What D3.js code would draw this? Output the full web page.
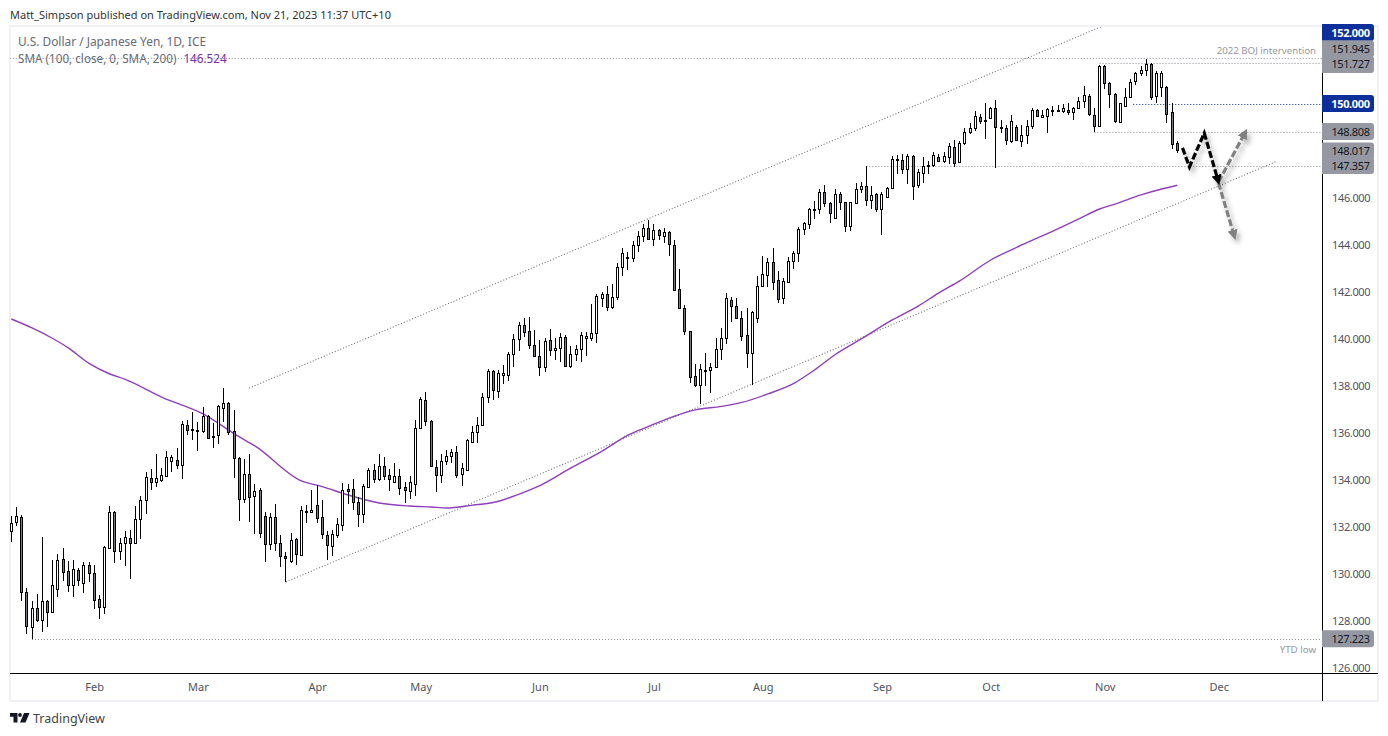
<!DOCTYPE html>
<html>
<head>
<meta charset="UTF-8">
<script src="https://cdn.jsdelivr.net/npm/d3@7/dist/d3.min.js"></script>
<style>
body{ margin:0; background:#fff; font-family:"Noto Sans", sans-serif; }
text{ font-family:"Noto Sans", sans-serif; }
</style>
</head>
<body>
<script>
var opens = [131.82,132.21,132.40,129.20,127.74,128.52,128.04,128.82,128.38,129.36,
130.60,130.09,129.53,130.14,129.61,130.35,130.01,128.90,128.59,131.10,
132.60,130.97,131.31,131.50,131.31,132.33,133.11,134.05,133.88,133.99,
134.15,134.80,134.82,134.63,136.30,136.12,136.08,136.08,136.69,135.82,
135.88,137.06,137.24,136.08,134.90,133.16,134.22,133.29,133.54,132.45,
131.24,132.39,131.28,130.73,130.52,131.48,130.77,132.67,132.60,132.90,
132.39,131.62,131.18,131.62,132.05,133.58,133.58,133.03,132.52,133.67,
134.39,134.01,134.56,134.18,133.88,134.13,133.67,133.53,133.82,136.21,
137.37,136.48,134.52,134.18,134.77,134.99,135.16,134.22,134.39,135.58,
136.01,136.30,137.50,138.60,137.78,138.46,138.46,139.33,139.97,140.56,
140.30,139.71,139.24,138.77,139.92,139.50,139.58,140.05,138.84,139.33,
139.54,140.01,140.01,140.22,141.71,141.88,141.33,141.75,143.03,143.44,
143.41,143.96,144.35,144.69,144.22,144.60,144.38,144.52,143.96,142.09,
141.28,140.30,138.39,138.01,138.63,138.65,138.77,139.54,140.01,141.64,
141.37,140.86,140.14,139.37,140.86,142.22,142.69,143.24,142.48,141.71,
142.42,143.28,143.62,144.65,144.86,145.48,145.50,146.22,145.75,145.14,
146.14,145.79,144.77,145.75,146.35,146.48,145.88,146.14,145.50,146.01,
146.39,147.61,147.58,147.20,147.77,146.52,147.06,147.33,147.37,147.71,
147.57,147.71,148.14,147.50,148.31,148.77,148.94,149.41,149.24,149.37,
149.79,148.97,148.94,148.40,148.99,148.42,148.65,149.03,149.71,149.41,
149.45,149.70,149.71,149.70,149.71,149.65,149.79,150.09,150.31,149.50,
149.03,151.58,150.86,150.39,149.20,149.88,150.26,150.94,151.28,151.41,
151.67,150.30,150.69,150.69,149.62,148.30]

var highs = [132.45,132.83,132.49,129.37,128.83,129.13,131.55,128.87,130.58,130.83,
131.09,130.53,130.58,130.25,130.50,130.48,130.35,129.09,131.17,132.87,
132.65,131.51,131.81,131.85,132.87,133.30,134.30,134.45,135.08,134.48,
135.21,135.03,135.34,136.49,136.52,136.87,136.45,137.09,136.74,136.39,
137.16,137.89,137.28,136.96,134.97,134.86,135.08,133.81,133.62,132.63,
132.56,132.94,131.64,130.90,131.71,131.53,132.87,132.90,133.55,133.75,
133.13,131.81,131.85,132.35,133.84,133.81,134.02,133.27,133.79,134.50,
134.66,135.07,134.94,134.45,134.69,134.43,133.88,134.13,136.52,137.50,
137.71,136.52,134.82,135.07,135.26,135.30,135.43,134.69,135.71,136.26,
136.67,137.68,138.70,138.66,138.66,138.87,139.43,140.18,140.69,140.89,
140.90,140.36,139.94,140.01,140.40,140.01,140.22,140.13,139.68,139.72,
140.29,140.29,141.47,141.89,141.98,142.23,142.32,143.20,143.85,143.70,
144.15,144.56,144.87,145.04,144.87,144.65,144.69,144.59,144.18,142.94,
141.43,140.30,138.90,138.92,139.37,138.94,140.01,140.43,141.92,141.77,
141.71,141.17,141.28,141.17,142.66,143.51,143.41,143.84,142.86,142.56,
143.45,143.71,144.76,144.96,145.54,145.84,146.38,146.53,145.82,146.35,
146.22,145.82,145.82,146.60,146.67,147.33,146.49,146.18,146.25,146.43,
147.77,147.81,147.84,147.84,147.82,147.20,147.71,147.57,147.92,147.84,
147.92,148.31,148.45,148.40,148.94,149.16,149.68,149.55,150.01,149.84,
150.14,149.30,149.07,149.51,149.07,149.07,149.30,149.81,149.78,149.72,
149.81,149.88,149.92,149.98,150.01,149.87,150.26,150.73,150.39,149.79,
151.65,151.62,150.90,150.46,150.01,150.65,151.04,151.33,151.61,151.88,
151.71,151.37,151.37,150.73,150.01,148.40]

var lows = [131.34,132.02,128.84,127.43,127.22,127.95,127.53,127.74,128.31,129.02,
129.68,129.21,129.02,129.47,129.19,129.64,128.50,128.08,128.28,131.10,
130.46,130.58,130.32,129.77,131.26,131.47,132.53,133.55,133.67,133.91,
134.09,134.33,134.43,134.02,135.91,135.68,135.21,135.99,135.74,135.33,
135.51,136.45,135.89,134.06,132.25,133.01,132.20,131.70,131.52,130.50,
131.00,130.96,130.29,129.64,130.45,130.38,130.76,132.15,132.60,132.15,
131.48,130.58,130.76,131.52,131.82,132.96,132.70,132.00,132.17,133.65,
133.87,133.95,133.98,133.53,133.88,133.34,133.01,133.18,133.31,136.16,
136.29,134.55,133.48,133.84,134.63,134.72,134.05,133.74,134.38,135.58,
135.54,136.30,137.27,137.38,137.48,138.05,138.21,138.80,139.48,140.08,
139.57,139.23,138.42,138.57,139.26,139.08,139.00,138.80,138.73,139.06,
139.00,139.26,139.89,139.82,141.35,141.19,141.27,141.64,142.67,142.92,
143.27,143.70,144.12,144.22,143.95,144.19,144.08,143.52,142.05,141.28,
140.16,138.12,137.95,137.21,138.00,137.67,138.76,139.08,139.75,140.72,
140.86,139.91,138.74,138.03,140.67,142.22,142.21,142.05,141.51,141.48,
142.39,142.97,143.27,144.42,144.65,145.08,145.31,145.61,144.93,145.11,
145.47,144.55,144.59,145.72,146.18,145.65,145.51,145.37,144.42,146.01,
146.39,147.01,147.01,146.57,145.89,146.42,146.63,147.00,147.31,147.53,
147.45,147.44,147.31,147.48,148.25,148.69,148.83,149.13,148.50,149.36,
147.27,148.73,148.23,148.32,148.42,148.15,148.26,148.93,149.44,149.37,
148.76,149.48,149.63,149.61,149.53,149.31,149.77,149.82,149.45,148.77,
149.03,150.63,149.82,149.16,149.18,149.87,150.25,150.77,151.17,151.17,
150.15,150.04,150.26,149.18,148.08,147.88]

var closes = [132.14,132.43,129.20,127.78,128.52,128.02,128.82,128.35,129.50,130.56,
130.08,129.53,130.18,129.74,130.35,130.04,128.89,128.59,131.11,132.60,
130.97,131.31,131.54,131.28,132.31,133.11,134.09,133.88,134.05,134.18,
134.94,134.94,134.63,136.35,136.12,136.13,136.09,136.69,135.77,135.85,
137.11,137.24,136.04,134.90,133.16,134.22,133.27,133.50,131.74,131.24,
132.39,131.30,130.73,130.65,131.44,130.82,132.69,132.60,132.72,132.35,
131.67,131.20,131.67,132.09,133.54,133.53,133.03,132.52,133.71,134.39,
134.01,134.56,134.13,134.04,134.13,133.62,133.54,133.88,136.18,137.41,
136.48,134.56,134.18,134.77,134.99,135.16,134.21,134.48,135.70,136.01,
136.30,137.50,138.60,137.82,138.52,138.52,139.33,139.97,140.56,140.29,
139.71,139.24,138.77,139.88,139.50,139.58,140.05,138.84,139.33,139.54,
140.13,140.09,140.22,141.79,141.88,141.33,141.75,143.03,143.62,143.45,
143.96,144.35,144.69,144.22,144.60,144.39,144.52,144.01,142.05,141.28,
140.30,138.35,138.01,138.69,138.65,138.77,139.54,140.01,141.71,141.40,
140.86,140.12,139.37,141.11,142.22,142.73,143.24,142.42,141.67,142.43,
143.28,143.62,144.65,144.90,145.50,145.50,146.22,145.75,145.33,146.14,
145.79,144.77,145.79,146.35,146.48,145.88,146.09,145.50,146.14,146.39,
147.62,147.62,147.20,147.77,146.48,147.07,147.33,147.37,147.80,147.54,
147.75,148.18,147.45,148.31,148.77,148.94,149.45,149.24,149.28,149.79,
148.99,148.99,148.43,149.24,148.46,148.65,149.03,149.71,149.45,149.50,
149.75,149.71,149.72,149.79,149.65,149.79,150.09,150.35,149.54,149.03,
151.58,150.86,150.39,149.26,150.01,150.26,150.90,151.28,151.41,151.67,
150.26,151.28,151.28,149.54,148.29,148.02]

var smaBars = [0,4,8,11,15,19,22,29,37,44,47,56,60,65,71,77,81,84,89,93,98,102,108,114,119,123,128,132,137,141,146,151,155,159,164,170,175,179,183,189,195,201,206,210,213,218,222,225]
var smaValues = [140.83,140.45,140.00,139.60,138.94,138.49,138.26,137.51,136.79,135.81,135.43,133.94,133.70,133.34,133.00,132.87,132.83,132.79,132.91,133.02,133.38,133.74,134.49,135.21,135.89,136.26,136.70,136.96,137.11,137.28,137.64,138.09,138.66,139.32,139.98,140.79,141.38,141.94,142.45,143.34,143.98,144.57,145.09,145.51,145.72,146.11,146.36,146.52]

var priceTicks = [126,128,130,132,134,136,138,140,142,144,146]
var monthLabels = ["Feb","Mar","Apr","May","Jun","Jul","Aug","Sep","Oct","Nov","Dec"]
var monthBars = [16,36,59,79,102,124,145,168,189,211,233]

var levelPrices = [151.945,151.727,150,148.808,147.357,127.223]
var levelStarts = [-0.3,210,216.5,209,165,4]
var levelColors = ["#8a8e96","#8a8e96","#0d2f9a","#8a8e96","#8a8e96","#8a8e96"]

var labelPrices = [152,151.945,151.727,150,148.808,148.017,147.357,127.223]
var labelNavy = [true,false,false,true,false,false,false,false]

// trend channel, start and end as [bar, price]
var channelUpper = [[45.9,137.89],[210.2,153.26]]
var channelLower = [[53,129.64],[244.3,147.55]]
// projected path
var pathBlack = [[226,148.11],[227.35,147.3],[230.2,148.74],[232.95,146.66]]
var pathUp = [[232.95,146.66],[238.2,148.81]]
var pathDown = [[232.95,146.62],[236.05,144.32]]

var width = 1388, height = 736
var pane = {left:10, right:1322, top:27, bottom:673}

var x = d3.scaleLinear().domain([0,225]).range([11.3,1177.3])
var y = d3.scaleLinear().domain([126,146]).range([667.5,197.5])

var svg = d3.select("body").append("svg")
    .attr("width", width).attr("height", height)
    .style("display","block")

var defs = svg.append("defs")
var blur = defs.append("filter").attr("id","shadow")
    .attr("x","-50%").attr("y","-50%").attr("width","200%").attr("height","200%")
blur.append("feDropShadow").attr("dx",3).attr("dy",4).attr("stdDeviation",2.5)
    .attr("flood-color","#000").attr("flood-opacity",0.3)
defs.append("clipPath").attr("id","paneclip").append("rect")
    .attr("x",pane.left).attr("y",pane.top)
    .attr("width",pane.right-pane.left).attr("height",pane.bottom-pane.top)
;[["headBlack","#000"],["headGrey","#808080"]].forEach(function(m){
    defs.append("marker").attr("id",m[0])
        .attr("viewBox","0 0 10 10").attr("refX",7).attr("refY",5)
        .attr("markerWidth",3.2).attr("markerHeight",3.2)
        .attr("orient","auto")
        .append("path").attr("d","M0,0L10,5L0,10z").attr("fill",m[1])
})

svg.append("text").attr("x",10).attr("y",19)
    .attr("font-size",11).attr("fill","#333")
    .text("Matt_Simpson published on TradingView.com, Nov 21, 2023 11:37 UTC+10")

// frame
svg.append("rect").attr("x",10).attr("y",26).attr("width",1368).attr("height",675)
    .attr("fill","none").attr("stroke","#f0f0f6").attr("stroke-width",2)

var plot = svg.append("g").attr("clip-path","url(#paneclip)")

// dotted levels and channel
var dots = "1 2"
plot.selectAll(".level").data(levelPrices).enter().append("line")
    .attr("class","level")
    .attr("x1",function(d,i){return x(levelStarts[i])})
    .attr("x2",pane.right)
    .attr("y1",function(d){return Math.round(y(d))+0.5})
    .attr("y2",function(d){return Math.round(y(d))+0.5})
    .attr("stroke",function(d,i){return levelColors[i]})
    .attr("stroke-dasharray",dots)

var lineGen = d3.line().x(function(d){return x(d[0])}).y(function(d){return y(d[1])})
plot.selectAll(".channel").data([channelUpper,channelLower]).enter().append("path")
    .attr("class","channel")
    .attr("d",lineGen).attr("fill","none")
    .attr("stroke","#707070").attr("stroke-width",1.1).attr("stroke-dasharray",dots)

// sma
var smaLine = d3.line()
    .x(function(d,i){return x(smaBars[i])})
    .y(function(d){return y(d)})
    .curve(d3.curveMonotoneX)
plot.append("path").datum(smaValues)
    .attr("d",smaLine).attr("fill","none")
    .attr("stroke","#8e3fbb").attr("stroke-width",1.4)

// candles
var candles = plot.selectAll(".candle").data(opens).enter().append("g").attr("class","candle")
candles.append("line")
    .attr("x1",function(d,i){return Math.floor(x(i))+0.5})
    .attr("x2",function(d,i){return Math.floor(x(i))+0.5})
    .attr("y1",function(d,i){return Math.round(y(highs[i]))})
    .attr("y2",function(d,i){return Math.round(y(lows[i]))})
    .attr("stroke","#000")
candles.append("rect")
    .attr("x",function(d,i){return Math.floor(x(i))-0.5})
    .attr("width",2)
    .attr("y",function(d,i){return Math.round(y(Math.max(d,closes[i])))+0.5})
    .attr("height",function(d,i){
        return Math.max(1,Math.round(y(Math.min(d,closes[i])))-Math.round(y(Math.max(d,closes[i]))))
    })
    .attr("fill",function(d,i){return closes[i]>=d ? "#fff" : "#787b86"})
    .attr("stroke","#000")

// projected arrows
var arrows = plot.append("g").attr("filter","url(#shadow)")
;[[pathUp,"#808080","headGrey"],[pathDown,"#808080","headGrey"],[pathBlack,"#000","headBlack"]].forEach(function(a){
    arrows.append("path").attr("d",lineGen(a[0])).attr("fill","none")
        .attr("stroke",a[1]).attr("stroke-width",3.2)
        .attr("stroke-dasharray","7 2.5")
        .attr("marker-end","url(#"+a[2]+")")
})

// notes on the chart
svg.append("text").attr("x",1316).attr("y",y(151.945)-3.5).attr("text-anchor","end")
    .attr("font-size",9.7).attr("fill","#9598a1").text("2022 BOJ intervention")
svg.append("text").attr("x",1316).attr("y",y(127.223)+14).attr("text-anchor","end")
    .attr("font-size",9.7).attr("fill","#9598a1").text("YTD low")

// legend
svg.append("text").attr("x",18).attr("y",46)
    .attr("font-size",11.9).attr("fill","#666a75").text("U.S. Dollar / Japanese Yen, 1D, ICE")
var smaText = svg.append("text").attr("x",18).attr("y",63).attr("font-size",11.7)
smaText.append("tspan").attr("fill","#666a75").text("SMA (100, close, 0, SMA, 200)")
smaText.append("tspan").attr("fill","#7b2cab").attr("dx",7).text("146.524")

// axes
var yAxis = d3.axisRight(y).tickValues(priceTicks).tickSize(0).tickPadding(10)
    .tickFormat(d3.format(".3f"))
var yG = svg.append("g").attr("transform","translate("+pane.right+",0)").call(yAxis)
yG.select(".domain").remove()
yG.selectAll("text").attr("font-size",11).attr("fill","#50535e")
    .style("letter-spacing","-0.35px").style("font-family",'"Noto Sans", sans-serif')

var xAxis = d3.axisBottom(x).tickValues(monthBars).tickSize(0).tickPadding(10)
    .tickFormat(function(d,i){return monthLabels[i]})
var xG = svg.append("g").attr("transform","translate(0,"+pane.bottom+")").call(xAxis)
xG.select(".domain").remove()
xG.selectAll("text").attr("font-size",11).attr("fill","#50535e").style("font-family",'"Noto Sans", sans-serif')

svg.append("line").attr("x1",10).attr("x2",1378).attr("y1",673.5).attr("y2",673.5).attr("stroke","#000")
svg.append("line").attr("x1",1322.5).attr("x2",1322.5).attr("y1",27).attr("y2",701).attr("stroke","#000")

// price tags, nudged apart where they would overlap
var labelNudge = [-24,-9,1.5,0,0,1,0,0]
var tags = svg.selectAll(".tag").data(labelPrices).enter().append("g")
    .attr("class","tag")
    .attr("transform",function(d,i){return "translate("+pane.right+","+(y(d)+labelNudge[i])+")"})
tags.append("path")
    .attr("d","M0,-8.5H49a3,3 0 0 1 3,3V5.5a3,3 0 0 1 -3,3H0Z")
    .attr("fill",function(d,i){return labelNavy[i] ? "#0d2f9a" : "#9598a1"})
tags.append("text").attr("x",28.5).attr("y",4)
    .attr("text-anchor","middle").attr("font-size",11)
    .style("letter-spacing","-0.35px")
    .attr("font-weight",function(d,i){return labelNavy[i] ? 700 : 400})
    .attr("fill",function(d,i){return labelNavy[i] ? "#fff" : "#131722"})
    .text(d3.format(".3f"))

// footer logo
var logo = svg.append("g").attr("fill","#131722")
logo.append("path").attr("d","M10,713H17.5V722.5H13.5V716.7H10Z")
logo.append("circle").attr("cx",20).attr("cy",715).attr("r",1.9)
logo.append("path").attr("d","M24,713H29.5L25.5,722.5H20Z")
svg.append("text").attr("x",33).attr("y",723)
    .attr("font-size",12.5).attr("fill","#444").text("TradingView")
</script>
</body>
</html>
